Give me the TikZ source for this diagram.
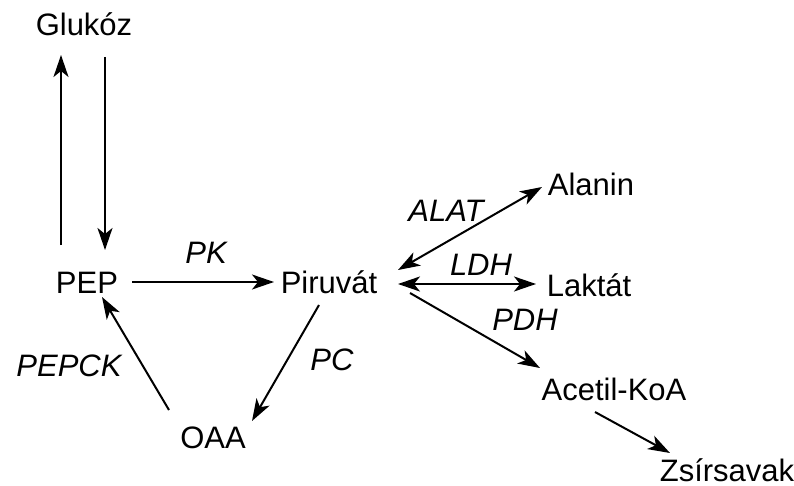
\documentclass[tikz,border=0pt]{standalone}
\usepackage{fontspec}
\setmainfont{Liberation Sans}
\usetikzlibrary{arrows.meta}
\begin{document}
\begin{tikzpicture}[x=1pt,y=-1pt,
  lbl/.style={font=\fontsize{31}{36}\selectfont, inner sep=0pt, anchor=base},
  enz/.style={font=\fontsize{31}{36}\selectfont\itshape, inner sep=0pt, anchor=base},
  tip/.style={},
  arr/.style={line width=2pt, -{Stealth[length=22pt,width=15pt,inset=6pt]}},
  darr/.style={line width=2pt, {Stealth[length=22pt,width=15pt,inset=6pt]}-{Stealth[length=22pt,width=15pt,inset=6pt]}}]
\useasboundingbox (0,0) rectangle (794,486);
% metabolites
\node[lbl] (glu) at (84,36) {Glukóz};
\node[lbl] (pep) at (87,293) {PEP};
\node[lbl] (pir) at (329,293) {Piruvát};
\node[lbl] (ala) at (591,196) {Alanin};
\node[lbl] (lak) at (589,296) {Laktát};
\node[lbl] (ace) at (614,400) {Acetil-KoA};
\node[lbl] (zsi) at (727,481) {Zsírsavak};
\node[lbl] (oaa) at (213,448) {OAA};
% enzymes
\node[enz] (pk) at (206,263) {PK};
\node[enz] (pepck) at (69,376) {PEPCK};
\node[enz] (alat) at (446,222) {ALAT};
\node[enz] (ldh) at (481,275) {LDH};
\node[enz] (pdh) at (525,330) {PDH};
\node[enz] (pc) at (332,370) {PC};
% connectors
\draw[arr] ([shift={(-26,-48)}]pep.base) -- ([shift={(-23,19)}]glu.base);
\draw[arr] ([shift={(21,21)}]glu.base) -- ([shift={(18,-43)}]pep.base);
\draw[arr] ([shift={(45,-11)}]pep.base) -- ([shift={(-55,-11)}]pir.base);
\draw[darr] ([shift={(69,-23)}]pir.base) -- ([shift={(-49,-9)}]ala.base);
\draw[darr] ([shift={(69,-9)}]pir.base) -- ([shift={(-53,-12)}]lak.base);
\draw[arr] ([shift={(81,0)}]pir.base) -- ([shift={(-74,-32)}]ace.base);
\draw[arr] ([shift={(-10,12)}]pir.base) -- ([shift={(39,-27)}]oaa.base);
\draw[arr] ([shift={(-44,-38)}]oaa.base) -- ([shift={(15,4)}]pep.base);
\draw[arr] ([shift={(-19,12)}]ace.base) -- ([shift={(-57,-28)}]zsi.base);
\end{tikzpicture}
\end{document}
